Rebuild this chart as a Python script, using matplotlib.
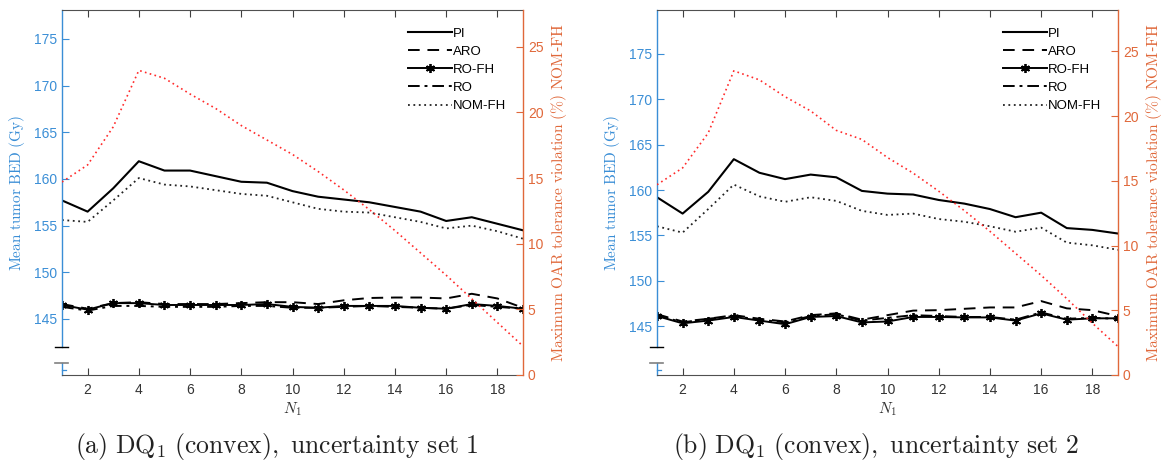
import matplotlib
matplotlib.use("Agg")
import matplotlib.pyplot as plt

plt.rcParams['font.family'] = ['Liberation Sans', 'DejaVu Sans']
plt.rcParams['mathtext.fontset'] = 'cm'

N1 = list(range(1, 20))

# Panel (a): uncertainty set 1
a_PI = [157.7, 156.5, 159.0, 161.9, 160.9, 160.9, 160.3, 159.7, 159.6, 158.7,
        158.1, 157.8, 157.5, 157.0, 156.5, 155.5, 155.9, 155.2, 154.5]
a_ARO = [146.6, 146.1, 146.7, 146.8, 146.6, 146.6, 146.6, 146.7, 146.8, 146.8,
         146.6, 147.0, 147.25, 147.3, 147.3, 147.2, 147.7, 147.2, 146.2]
a_ROFH = [146.5, 146.0, 146.7, 146.7, 146.5, 146.5, 146.5, 146.5, 146.6, 146.3,
          146.2, 146.4, 146.4, 146.4, 146.2, 146.1, 146.6, 146.4, 146.1]
a_RO = [146.3, 145.9, 146.4, 146.4, 146.3, 146.3, 146.3, 146.4, 146.4, 146.2,
        146.2, 146.3, 146.4, 146.3, 146.2, 146.1, 146.5, 146.3, 146.1]
a_NOMFH = [155.6, 155.4, 157.7, 160.1, 159.4, 159.2, 158.8, 158.4, 158.2, 157.5,
           156.8, 156.5, 156.4, 155.9, 155.4, 154.7, 155.0, 154.4, 153.6]
a_VIOL = [14.7, 16.0, 18.9, 23.2, 22.6, 21.4, 20.3, 19.0, 17.9, 16.8,
          15.5, 14.1, 12.6, 11.0, 9.3, 7.6, 5.8, 4.0, 2.2]

# Panel (b): uncertainty set 2
b_PI = [159.2, 157.4, 159.8, 163.4, 161.9, 161.2, 161.7, 161.4, 159.9, 159.6,
        159.5, 158.9, 158.5, 157.9, 157.0, 157.5, 155.8, 155.6, 155.2]
b_ARO = [146.3, 145.5, 145.8, 146.2, 145.8, 145.5, 146.2, 146.4, 145.7, 146.2,
         146.7, 146.75, 146.9, 147.05, 147.05, 147.75, 146.95, 146.75, 146.1]
b_ROFH = [146.1, 145.3, 145.6, 146.0, 145.6, 145.2, 146.0, 146.1, 145.4, 145.5,
          146.0, 146.0, 145.95, 145.95, 145.6, 146.4, 145.7, 145.85, 145.85]
b_RO = [146.2, 145.4, 145.8, 146.1, 145.7, 145.4, 146.1, 146.3, 145.6, 145.9,
        146.2, 146.1, 146.0, 146.0, 145.7, 146.5, 145.8, 145.9, 145.8]
b_NOMFH = [156.0, 155.3, 157.9, 160.6, 159.3, 158.7, 159.2, 158.8, 157.7, 157.25,
           157.4, 156.8, 156.5, 156.0, 155.4, 155.85, 154.2, 153.9, 153.4]
b_VIOL = [14.7, 16.0, 18.7, 23.5, 22.8, 21.5, 20.4, 18.9, 18.2, 16.8,
          15.6, 14.2, 12.7, 11.1, 9.4, 7.7, 5.9, 4.0, 2.2]

x_ticks = [2, 4, 6, 8, 10, 12, 14, 16, 18]
left_ticks = [145, 150, 155, 160, 165, 170, 175]
right_ticks = [0, 5, 10, 15, 20, 25]
labels = ['PI', 'ARO', 'RO-FH', 'RO', 'NOM-FH']
captions = [r'$\mathrm{(a)\ DQ_1\ (convex),\ uncertainty\ set\ 1}$',
            r'$\mathrm{(b)\ DQ_1\ (convex),\ uncertainty\ set\ 2}$']

BLUE = '#3a8ed6'
ORANGE = '#e0683a'
RED = '#ff2a2a'
GRAY = '#404040'
ASTER = (6, 2, 0)

W, H = 1165, 466
fig = plt.figure(figsize=(W / 100, H / 100), dpi=100)

panels = [
    dict(left=62, right=523, ylim=(139.0, 178.1), rlim=(0, 27.8),
         data=(a_PI, a_ARO, a_ROFH, a_RO, a_NOMFH, a_VIOL), cap_x=277),
    dict(left=657, right=1118, ylim=(139.6, 179.85), rlim=(0, 28.2),
         data=(b_PI, b_ARO, b_ROFH, b_RO, b_NOMFH, b_VIOL), cap_x=876),
]
top_px, bot_px = 10, 375

for i, p in enumerate(panels):
    ax = fig.add_axes([p['left'] / W, 1 - bot_px / H,
                       (p['right'] - p['left']) / W, (bot_px - top_px) / H])
    PI, ARO, ROFH, RO, NOMFH, VIOL = p['data']
    ax.plot(N1, PI, color='black', lw=1.5, ls='-', label=labels[0])
    ax.plot(N1, ARO, color='black', lw=1.4, ls=(0, (6, 4)), label=labels[1])
    ax.plot(N1, ROFH, color='black', lw=1.4, ls='-', marker=ASTER, ms=6.5,
            mew=1.3, label=labels[2])
    ax.plot(N1, RO, color='black', lw=1.4, ls=(0, (6, 2.5, 1.5, 2.5)),
            label=labels[3])
    ax.plot(N1, NOMFH, color='#222222', lw=1.3, ls=(0, (1, 2)),
            label=labels[4])
    ax.set_xlim(1, 19)
    ax.set_ylim(*p['ylim'])
    ax.set_xticks(x_ticks)
    ax.set_yticks(left_ticks)
    ax.tick_params(axis='x', direction='in', top=True, length=5,
                   colors=GRAY, labelsize=10, pad=6, labelcolor='#333333')
    ax.tick_params(axis='y', direction='in', length=5, colors=BLUE,
                   labelsize=10, labelcolor=BLUE, right=False)
    for s in ('top', 'bottom'):
        ax.spines[s].set_color('#505050')
        ax.spines[s].set_linewidth(0.8)
    ax.spines['right'].set_visible(False)
    # broken left spine
    frac_hi = (bot_px - 347) / (bot_px - top_px)
    frac_lo = (bot_px - 363) / (bot_px - top_px)
    ax.spines['left'].set_visible(False)
    ax.plot([0, 0], [frac_hi, 1], transform=ax.transAxes, color=BLUE,
            lw=1.0, clip_on=False)
    ax.plot([0, 0], [0, frac_lo], transform=ax.transAxes, color=BLUE,
            lw=1.0, clip_on=False)
    dx = 7 / (p['right'] - p['left'])
    ax.plot([-dx, dx * 0.9], [frac_hi, frac_hi], transform=ax.transAxes,
            color='black', lw=1.0, clip_on=False)
    ax.plot([-dx, dx * 0.9], [frac_lo, frac_lo], transform=ax.transAxes,
            color='#808080', lw=1.2, clip_on=False)
    small = (bot_px - 370) / (bot_px - top_px)
    ax.plot([0, dx * 0.6], [small, small], transform=ax.transAxes,
            color=BLUE, lw=0.9, clip_on=False)
    ax.set_ylabel(r'$\mathrm{Mean\ tumor\ BED\ (Gy)}$', color=BLUE,
                  fontsize=11, labelpad=5)
    ax.set_xlabel(r'$N_1$', fontsize=11, color='#333333', labelpad=2)
    ax.legend(loc='upper right', bbox_to_anchor=(0.99, 0.985), frameon=False,
              fontsize=9.5, handlelength=3.3, handletextpad=0.12,
              labelspacing=0.45)

    ax2 = ax.twinx()
    ax2.plot(N1, VIOL, color=RED, lw=1.2, ls=(0, (1, 2)))
    ax2.set_ylim(*p['rlim'])
    ax2.set_xlim(1, 19)
    ax2.set_yticks(right_ticks)
    ax2.tick_params(axis='y', direction='in', length=5, colors=ORANGE,
                    labelsize=10, labelcolor=ORANGE)
    for s in ('left', 'top', 'bottom'):
        ax2.spines[s].set_visible(False)
    ax2.spines['right'].set_color(ORANGE)
    ax2.spines['right'].set_linewidth(1.0)
    ax2.set_ylabel(r'$\mathrm{Maximum\ OAR\ tolerance\ violation\ (\%)\ NOM}$-$\mathrm{FH}$',
                   color=ORANGE, fontsize=11.2, labelpad=4)

    fig.text(p['cap_x'] / W, 1 - 447 / H, captions[i],
             ha='center', va='center', fontsize=18.5, color='#222222')

fig.savefig('out.png', dpi=100)
